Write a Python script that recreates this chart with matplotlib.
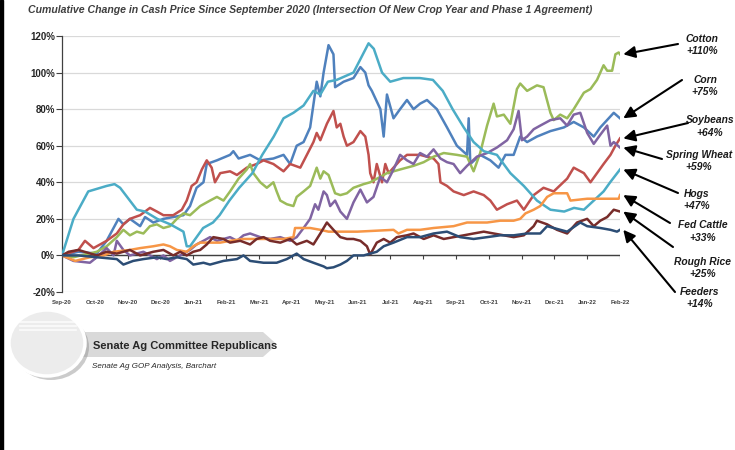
import matplotlib
matplotlib.use("Agg")
import matplotlib.pyplot as plt
from matplotlib.patches import Ellipse, Polygon, Rectangle

# cumulative % change since Sep 2020, x = months after Sep-20
corn_t = [0, 0.5, 1.06, 1.36, 1.57, 1.72, 1.87, 2.07, 2.38, 2.53, 2.78, 3.09, 3.39, 3.7, 3.9, 4.1, 4.31, 4.41,
          4.72, 5.12, 5.22, 5.38, 5.73, 6.04, 6.44, 6.75, 6.95, 7.15, 7.36, 7.56, 7.76, 7.87, 7.97, 8.12,
          8.27, 8.32, 8.58, 8.88, 9.09, 9.24, 9.34, 9.44, 9.7, 9.8, 9.9, 10.1, 10.3, 10.51, 10.71, 10.91,
          11.12, 11.42, 11.73, 12.03, 12.34, 12.39, 12.44, 12.74, 13.05, 13.3, 13.51, 13.76, 13.96, 14.17,
          14.47, 14.88, 15.29, 15.59, 15.9, 16.2, 16.4, 16.81, 17.0]
corn_v = [0, 2, 1, 8, 15, 20, 17, 20, 16, 21, 18, 20, 21, 22, 27, 37, 40, 50,
          52, 55, 57, 53, 55, 52, 53, 55, 50, 60, 62, 70, 95, 87, 100, 115,
          110, 92, 95, 97, 103, 100, 93, 90, 80, 65, 88, 75, 80, 85, 80, 83,
          85, 80, 70, 60, 55, 75, 50, 55, 52, 48, 55, 55, 65, 62,
          65, 68, 70, 73, 70, 65, 70, 78, 75]

soy_t = [0, 0.5, 0.7, 0.96, 1.36, 1.67, 1.87, 2.07, 2.38, 2.68, 2.89, 3.09, 3.39, 3.65, 3.8, 3.95, 4.1, 4.26,
         4.41, 4.56, 4.66, 4.82, 5.12, 5.33, 5.63, 5.93, 6.14, 6.44, 6.75, 6.95, 7.26, 7.46, 7.66, 7.76, 7.87,
         8.07, 8.27, 8.37, 8.48, 8.58, 8.68, 8.88, 9.09, 9.24, 9.34, 9.39, 9.49, 9.59, 9.75, 9.85, 9.95, 10.1,
         10.3, 10.51, 10.91, 11.32, 11.47, 11.53, 11.73, 11.93, 12.24, 12.54, 12.85, 13.05, 13.25, 13.56,
         13.86, 14.07, 14.37, 14.67, 14.98, 15.39, 15.59, 15.9, 16.1, 16.3, 16.5, 16.71, 16.86, 17.0]
soy_v = [0, 3, 8, 4, 8, 12, 17, 20, 22, 26, 24, 22, 22, 25, 30, 38, 40, 47,
         52, 48, 40, 45, 46, 44, 48, 50, 52, 50, 46, 50, 48, 55, 62, 67, 63,
         72, 79, 70, 72, 65, 60, 62, 68, 65, 55, 45, 40, 50, 40, 50, 45, 48,
         52, 55, 55, 53, 50, 40, 38, 35, 33, 35, 33, 30, 25, 28,
         30, 25, 33, 37, 35, 42, 48, 45, 40, 45, 50, 55, 60, 64]

cotton_t = [0, 0.35, 1.06, 1.36, 1.67, 1.87, 2.07, 2.28, 2.48, 2.68, 2.89, 3.09, 3.29, 3.5, 3.7, 3.9, 4.21,
            4.51, 4.72, 4.92, 5.12, 5.38, 5.63, 5.73, 5.83, 6.04, 6.24, 6.44, 6.54, 6.65, 6.85, 7.05, 7.15,
            7.36, 7.56, 7.76, 7.87, 7.97, 8.12, 8.32, 8.48, 8.68, 8.88, 9.19, 9.39, 9.7, 9.9, 10.3, 10.71,
            11.02, 11.32, 11.63, 12.03, 12.34, 12.54, 12.74, 12.95, 13.15, 13.25, 13.46, 13.66, 13.86, 13.96,
            14.17, 14.47, 14.67, 14.88, 14.98, 15.18, 15.39, 15.59, 15.9, 16.1, 16.3, 16.5, 16.61, 16.76,
            16.86, 16.96, 17.0]
cotton_v = [0, -1, 2, 5, 10, 14, 11, 13, 12, 16, 17, 15, 16, 20, 23, 22, 27,
            30, 32, 30, 35, 42, 47, 50, 45, 40, 37, 40, 35, 30, 28, 27, 32,
            35, 38, 48, 42, 46, 44, 34, 33, 34, 37, 39, 40, 43, 45, 47, 49,
            51, 54, 56, 55, 54, 46, 56, 71, 83, 76, 77, 72, 91, 94,
            90, 93, 92, 78, 74, 77, 75, 80, 89, 91, 96, 104, 101, 101,
            110, 111, 110]

wheat_t = [0, 0.35, 0.85, 1.06, 1.36, 1.57, 1.67, 1.87, 2.07, 2.48, 2.89, 3.09, 3.29, 3.6, 3.9, 4.1, 4.31,
           4.51, 4.72, 5.12, 5.33, 5.53, 5.73, 6.04, 6.34, 6.65, 6.95, 7.15, 7.36, 7.56, 7.71, 7.81, 7.97,
           8.07, 8.17, 8.32, 8.48, 8.68, 8.88, 9.09, 9.29, 9.49, 9.7, 9.9, 10.1, 10.3, 10.51, 10.71, 10.91,
           11.12, 11.32, 11.53, 11.73, 11.93, 12.13, 12.34, 12.64, 12.95, 13.25, 13.56, 13.76, 13.91, 14.01,
           14.17, 14.37, 14.57, 14.88, 15.18, 15.39, 15.59, 15.79, 16.0, 16.2, 16.4, 16.61, 16.71, 16.81, 17.0]
wheat_v = [0, -3, -4, -1, 4, 0, 8, 3, 0, 2, -2, 0, -3, 0, 3, 6, 8,
           10, 8, 10, 8, 11, 12, 10, 9, 10, 8, 10, 15, 20, 28, 25, 35,
           33, 27, 30, 24, 20, 29, 36, 29, 32, 43, 40, 47, 55, 52, 50, 56,
           54, 58, 53, 51, 50, 45, 49, 54, 56, 59, 63, 69, 79, 63,
           65, 69, 71, 74, 75, 71, 77, 78, 67, 61, 66, 71, 60, 62, 59]

hogs_t = [0, 0.35, 0.8, 1.36, 1.6, 1.77, 2.28, 2.53, 2.9, 3.3, 3.5, 3.7, 3.8, 3.9, 4.1, 4.3, 4.6, 4.8,
          5.1, 5.4, 5.8, 6.1, 6.45, 6.75, 7.05, 7.36, 7.66, 7.87, 8.1, 8.37, 8.88, 9.34, 9.5, 9.75, 10.0,
          10.4, 10.9, 11.3, 11.6, 11.9, 12.24, 12.54, 12.85, 13.25, 13.66, 14.07, 14.47, 14.88, 15.3, 15.6,
          15.9, 16.2, 16.5, 16.7, 17.0]
hogs_v = [0, 20, 35, 38, 39, 37, 25, 24, 20, 17, 15, 13, 5, 5, 10, 15, 18, 22,
          30, 37, 45, 55, 65, 75, 78, 82, 90, 88, 95, 96, 100, 116, 113, 100, 95,
          97, 97, 96, 90, 80, 70, 62, 57, 55, 45, 38, 30, 25, 24, 26,
          25, 30, 35, 40, 47]

cattle_t = [0, 0.4, 0.85, 1.27, 1.57, 2.07, 2.38, 2.78, 3.09, 3.29, 3.5, 3.8, 4.0, 4.21, 4.82, 5.12, 5.53,
            6.14, 6.75, 7.05, 7.1, 7.56, 7.87, 8.12, 9.0, 10.1, 10.25, 10.51, 10.91, 11.32, 11.93, 12.34,
            12.95, 13.35, 13.76, 13.96, 14.12, 14.37, 14.57, 14.78, 14.98, 15.39, 15.49, 16.0, 16.96, 17.0]
cattle_v = [0, -3, -1, 0, 2, 3, 4, 5, 6, 5, 3, 2, 5, 7, 7, 8, 9,
            9, 9, 10, 15, 15, 14, 13, 13, 14, 12, 14, 14, 15, 16, 18,
            18, 19, 19, 20, 23, 25, 27, 32, 34, 34, 30, 31, 31, 33]

rice_t = [0, 0.2, 0.5, 1.06, 1.36, 1.67, 2.07, 2.38, 2.78, 3.09, 3.39, 3.6, 3.8, 4.0, 4.21, 4.41, 4.61,
          4.92, 5.12, 5.43, 5.73, 5.93, 6.14, 6.34, 6.65, 6.95, 7.15, 7.46, 7.66, 7.87, 7.97, 8.07, 8.27,
          8.48, 8.68, 8.88, 9.09, 9.29, 9.39, 9.59, 9.8, 10.0, 10.2, 10.51, 10.71, 11.02, 11.32, 11.63,
          11.93, 12.24, 12.54, 12.85, 13.15, 13.46, 13.76, 14.07, 14.37, 14.47, 14.78, 15.08, 15.39, 15.69,
          16.0, 16.2, 16.4, 16.61, 16.81, 17.0]
rice_v = [0, 2, 3, 0, 2, 1, 3, 0, 2, 3, 0, 2, 0, 2, 3, 6, 10,
          9, 7, 8, 6, 9, 10, 8, 7, 9, 6, 8, 6, 12, 15, 18, 14,
          10, 9, 9, 8, 5, 0.5, 7, 9, 7, 10, 11, 12, 9, 11, 9,
          10, 11, 12, 13, 12, 11, 10, 11, 16, 19, 17, 14, 12, 18,
          20, 16, 19, 21, 25, 24]

feeders_t = [0, 0.5, 1.06, 1.67, 1.87, 2.17, 2.48, 2.89, 3.19, 3.5, 3.8, 4.0, 4.31, 4.51, 4.92, 5.33, 5.53,
             5.73, 6.14, 6.54, 6.85, 7.15, 7.36, 7.66, 7.97, 8.07, 8.27, 8.48, 8.68, 8.88, 9.19, 9.59, 9.8,
             10.1, 10.51, 10.91, 11.32, 11.73, 12.13, 12.54, 12.95, 13.35, 13.76, 14.17, 14.57, 14.78, 14.98,
             15.39, 15.79, 16.0, 16.4, 16.71, 16.91, 17.0]
feeders_v = [0, 0, -1, -2, -5, -3, -2, -1, -2, -1, -2, -5, -4, -5, -3, -2, 0,
             -3, -4, -4, -2, 1, -2, -4, -6, -7, -6.5, -5, -3, 0, 0, 2, 5,
             7, 10, 10, 12, 13, 10, 9, 10, 11, 11, 12, 12, 16, 15,
             13, 18, 16, 15, 14, 13, 14]

names = ["Cotton", "Corn", "Soybeans", "Spring Wheat", "Hogs", "Fed Cattle", "Rough Rice", "Feeders"]
changes = ["+110%", "+75%", "+64%", "+59%", "+47%", "+33%", "+25%", "+14%"]
month_labels = ["Sep-20", "Oct-20", "Nov-20", "Dec-20", "Jan-21", "Feb-21", "Mar-21", "Apr-21", "May-21",
                "Jun-21", "Jul-21", "Aug-21", "Sep-21", "Oct-21", "Nov-21", "Dec-21", "Jan-22", "Feb-22"]
y_ticks = [-20, 0, 20, 40, 60, 80, 100, 120]

series = {
    "Corn": (corn_t, corn_v, "#4F81BD"),
    "Soybeans": (soy_t, soy_v, "#C0504D"),
    "Cotton": (cotton_t, cotton_v, "#9BBB59"),
    "Spring Wheat": (wheat_t, wheat_v, "#8064A2"),
    "Hogs": (hogs_t, hogs_v, "#4BACC6"),
    "Fed Cattle": (cattle_t, cattle_v, "#F79646"),
    "Rough Rice": (rice_t, rice_v, "#772C2A"),
    "Feeders": (feeders_t, feeders_v, "#2C4D75"),
}

W, H = 735, 450
narrow = ["Liberation Sans Narrow", "Liberation Sans", "DejaVu Sans"]
plain = ["Liberation Sans", "DejaVu Sans"]

fig = plt.figure(figsize=(W / 100, H / 100), dpi=100)
fig.patch.set_facecolor("white")

# decoration layer in pixel coords
deco = fig.add_axes([0, 0, 1, 1], zorder=-1)
deco.set_xlim(0, W)
deco.set_ylim(H, 0)
deco.axis("off")
deco.add_patch(Rectangle((0, 0), 3.5, H, color="black"))
deco.add_patch(Polygon([(70, 332), (263, 332), (277, 344.5), (263, 357), (70, 357)],
                       closed=True, facecolor="#D9D9D9", edgecolor="none"))
deco.add_patch(Ellipse((51, 347), 76, 66, facecolor="#8C8C8C", edgecolor="none", alpha=0.45))
deco.add_patch(Ellipse((47, 343), 76, 66, facecolor="#ECECEC", edgecolor="white", lw=2.5))
for yy in [322, 326, 330]:
    deco.plot([20, 76], [yy, yy], color="white", lw=1.2, alpha=0.8)
deco.text(93, 346, "Senate Ag Committee Republicans", fontsize=8, fontweight="bold",
          family=narrow, color="#262626", ha="left", va="center")
deco.text(92, 367, "Senate Ag GOP Analysis, Barchart", fontsize=5.8, fontstyle="italic",
          family=narrow, color="#262626", ha="left", va="center")

fig.text(28 / W, 1 - 10 / H,
         "Cumulative Change in Cash Price Since September 2020 (Intersection Of New Crop Year and Phase 1 Agreement)",
         fontsize=7.6, fontweight="bold", fontstyle="italic", family=plain, color="#3F3F3F",
         ha="left", va="center")

ax = fig.add_axes([62 / W, 1 - 292 / H, 558 / W, 256 / H])
for name, (t, v, c) in series.items():
    ax.plot(t, v, color=c, lw=1.8, solid_joinstyle="round", zorder=3)

ax.set_xlim(0, 17)
ax.set_ylim(-20, 120)
ax.set_yticks(y_ticks)
ax.set_yticklabels([f"{v}%" for v in y_ticks], fontsize=7, fontweight="bold", family=narrow, color="#262626")
ax.set_xticks(range(len(month_labels)))
ax.set_xticklabels(month_labels, fontsize=4.3, fontweight="bold", family=plain, color="#404040")
ax.tick_params(axis="x", length=0, pad=5.5)
ax.tick_params(axis="y", length=4, width=0.8, color="#404040", pad=1)
ax.yaxis.grid(True, color="#D9D9D9", lw=0.9)
ax.set_axisbelow(True)
for s in ["top", "right", "bottom"]:
    ax.spines[s].set_visible(False)
ax.spines["left"].set_color("#404040")
ax.spines["left"].set_linewidth(0.9)
ax.axhline(0, color="#404040", lw=1.0, zorder=2)
ax.vlines(range(len(month_labels)), -1.7, 0, color="#404040", lw=0.8, zorder=2)

# labels on the right with arrows to the line ends
label_pos = [(702, 45), (705, 86), (710, 126.5), (699, 161), (697, 200), (703, 231.5), (703, 268), (700, 298)]
tail_pos = [(678, 44), (682, 80), (688, 123), (662, 159), (678, 193), (670, 223), (673, 247), (675, 292)]
for name, pct, (lx, ly), (tx, ty) in zip(names, changes, label_pos, tail_pos):
    fig.text(lx / W, 1 - ly / H, f"{name}\n{pct}", fontsize=7.4, fontweight="bold", fontstyle="italic",
             family=plain, color="#1a1a1a", ha="center", va="center", linespacing=1.35)
    t, v, c = series[name]
    ax.annotate("", xy=(t[-1] + 0.1, v[-1]), xycoords="data",
                xytext=(tx, H - ty), textcoords="figure pixels",
                arrowprops=dict(arrowstyle="-|>,head_length=0.7,head_width=0.35", color="black",
                                lw=1.5, shrinkA=0, shrinkB=0),
                annotation_clip=False)

fig.savefig("out.png", dpi=100)
